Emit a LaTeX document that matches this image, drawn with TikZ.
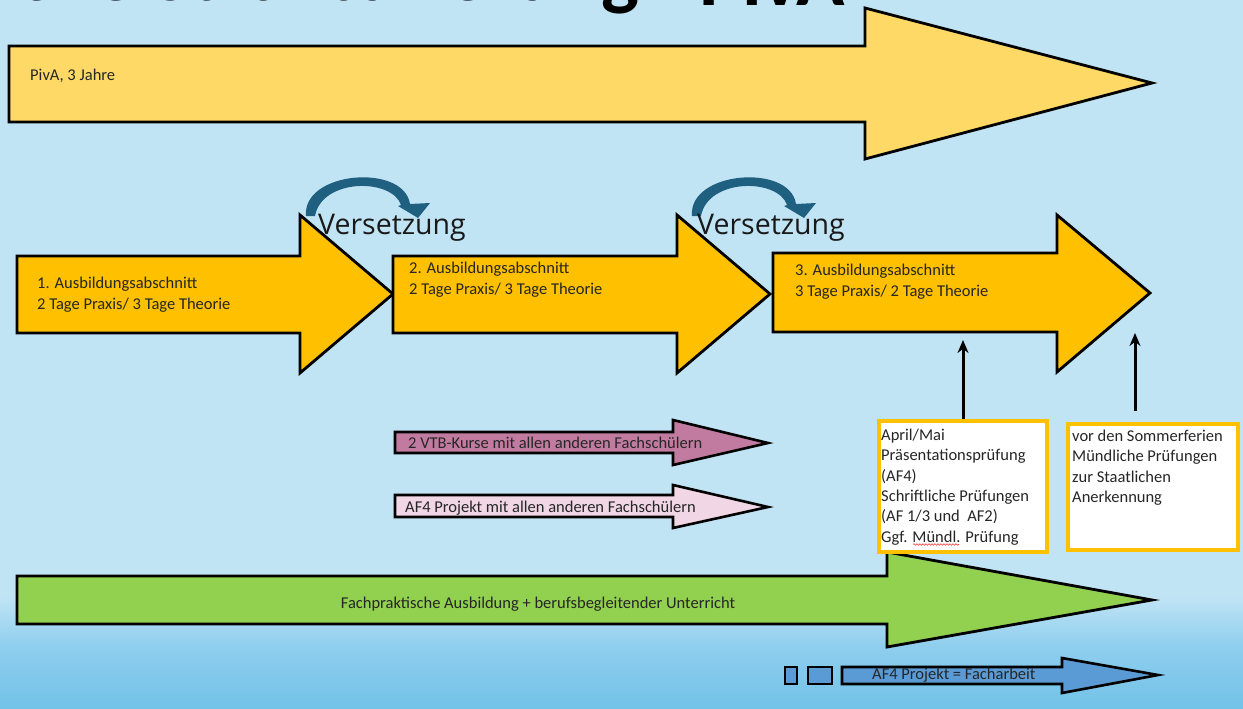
\documentclass[tikz,border=0pt]{standalone}
\usepackage{fontspec}
\setmainfont{Carlito}
\newfontfamily\osans{Open Sans}
\usetikzlibrary{calc,arrows.meta,decorations.pathmorphing}
\definecolor{bgblue}{HTML}{C1E4F5}
\definecolor{bgmid}{HTML}{8FCEEE}
\definecolor{bgdark}{HTML}{72C2E8}
\definecolor{pivay}{HTML}{FFD966}
\definecolor{orng}{HTML}{FFC000}
\definecolor{mauve}{HTML}{C27BA0}
\definecolor{lpink}{HTML}{F1D6E5}
\definecolor{grn}{HTML}{92D050}
\definecolor{blu}{HTML}{5B9BD5}
\definecolor{tealc}{HTML}{1F5F7F}
\definecolor{txt}{HTML}{262626}
\newcommand\mlines[1]{\begin{tabular}[t]{@{}l@{}}#1\end{tabular}}
\begin{document}
\begin{tikzpicture}[x=1pt,y=-1pt,
  outl/.style={draw=black,line width=2.8pt,line join=miter},
  thinoutl/.style={draw=black,line width=2.6pt,line join=miter},
  tx/.style={inner sep=0pt,anchor=base west,text=txt,font=\fontsize{16.5}{21}\selectfont},
  btx/.style={inner sep=0pt,anchor=base west,text=txt,font=\fontsize{16.5}{20.3}\selectfont},
  obox/.style={draw=orng,fill=white,line width=4pt,inner sep=0pt,anchor=north west},
  uparr/.style={draw=black,line width=3pt,-{Stealth[length=13pt,width=11pt]}},
  vers/.style={inner sep=0pt,anchor=base west,font=\osans\fontsize{28.5}{30}\selectfont,text=black!90},
  curv/.style={fill=tealc}
]
\useasboundingbox (0,0) rectangle (1243,709);
\clip (0,0) rectangle (1243,709);
% background
\fill[bgblue] (0,0) rectangle (1243,597);
\shade[top color=bgblue,bottom color=bgmid] (0,596) rectangle (1243,646);
\shade[top color=bgmid,bottom color=bgdark] (0,645) rectangle (1243,709);
% title (cut off at the top edge, as in the reference)
\node[inner sep=0pt,anchor=base,font=\bfseries\fontsize{80}{90}\selectfont] (title) at (639,0.5)
  {\makebox[0pt][r]{Zeitliche Strukturierung}\makebox[0pt][l]{\raisebox{-5pt}{ - PivA}}};
% PivA arrow
\path[outl,fill=pivay] (9,46) -- (865,46) -- (865,8) -- (1152,83) -- (865,159) -- (865,122) -- (9,122) -- cycle;
\node[tx] (piva) at (30,81) {PivA, 3 Jahre};
% three training sections
\path[outl,fill=orng] (17,256) -- (300,256) -- (300,215) -- (393,294) -- (300,373) -- (300,333) -- (17,333) -- cycle;
\node[tx] (a1) at (37,288) {\mlines{1. Ausbildungsabschnitt\\2 Tage Praxis/ 3 Tage Theorie}};
\path[outl,fill=orng] (393,256) -- (677,256) -- (677,215) -- (770,294) -- (677,373) -- (677,333) -- (393,333) -- cycle;
\node[tx] (a2) at (409,273) {\mlines{2. Ausbildungsabschnitt\\2 Tage Praxis/ 3 Tage Theorie}};
\path[outl,fill=orng] (773,253) -- (1057,253) -- (1057,215) -- (1150,293) -- (1057,372) -- (1057,332) -- (773,332) -- cycle;
\node[tx] (a3) at (795,275) {\mlines{3. Ausbildungsabschnitt\\3 Tage Praxis/ 2 Tage Theorie}};
% curved arrows + Versetzung
\foreach \dx in {0,386}{
  \begin{scope}[shift={(\dx,0)}]
    \fill[curv] (306,216) .. controls (302,171) and (404,163) .. (410,204) -- (430,203) -- (418,218) -- (398,206) -- (401,205) .. controls (392,178) and (322,178) .. (315,216) -- cycle;
  \end{scope}
}
\node[vers] (v1) at (318,234) {Versetzung};
\node[vers] (v2) at (697,234) {Versetzung};
% VTB and AF4 arrows
\path[thinoutl,fill=mauve] (395,432) -- (673,432) -- (673,420) -- (768,443) -- (673,465) -- (673,453) -- (395,453) -- cycle;
\node[tx] (vtb) at (408,448.5) {2 VTB-Kurse mit allen anderen Fachschülern};
\path[thinoutl,fill=lpink] (395,495) -- (673,495) -- (673,485) -- (768,507) -- (673,528) -- (673,517) -- (395,517) -- cycle;
\node[tx] (af4) at (405,512.5) {AF4 Projekt mit allen anderen Fachschülern};
% green arrow
\path[outl,fill=grn] (17,576) -- (887,576) -- (887,552) -- (1152,600) -- (887,647) -- (887,624) -- (17,624) -- cycle;
\node[inner sep=0pt,anchor=base,text=txt,font=\fontsize{16.5}{21}\selectfont] (fp) at (538,608) {Fachpraktische Ausbildung + berufsbegleitender Unterricht};
% exam boxes
\node[obox,minimum width=168pt,minimum height=131pt] (box1) at (877,419) {};
\node[btx] (b1t) at (881,440.5) {\mlines{April/Mai\\Präsentationsprüfung\\(AF4)\\Schriftliche Prüfungen\\(AF 1/3 und\ \ AF2)\\Ggf. Mündl. Prüfung}};
\draw[red!80,line width=0.6pt,decorate,decoration={snake,amplitude=0.8pt,segment length=3pt}] (913,544.5) -- (959,544.5);
\node[obox,minimum width=170pt,minimum height=126pt] (box2) at (1066,422) {};
\node[btx] (b2t) at (1072,441.5) {\mlines{vor den Sommerferien\\Mündliche Prüfungen\\zur Staatlichen\\Anerkennung}};
% arrows up
\coordinate (t1) at (963,340);
\coordinate (t2) at (1135,333);
\draw[uparr] (t1 |- box1.north) -- (t1);
\draw[uparr] ($(t2 |- box2.north)+(0,-11)$) -- (t2);
% blue Facharbeit arrow
\path[thinoutl,fill=blu] (785,667) rectangle (797,684);
\path[thinoutl,fill=blu] (808,667) rectangle (832,684);
\path[thinoutl,fill=blu] (842,667) -- (1062,667) -- (1062,658) -- (1158,675) -- (1062,693) -- (1062,684) -- (842,684) -- cycle;
\node[tx] (fa) at (872,679.5) {AF4 Projekt = Facharbeit};
\end{tikzpicture}
\end{document}
